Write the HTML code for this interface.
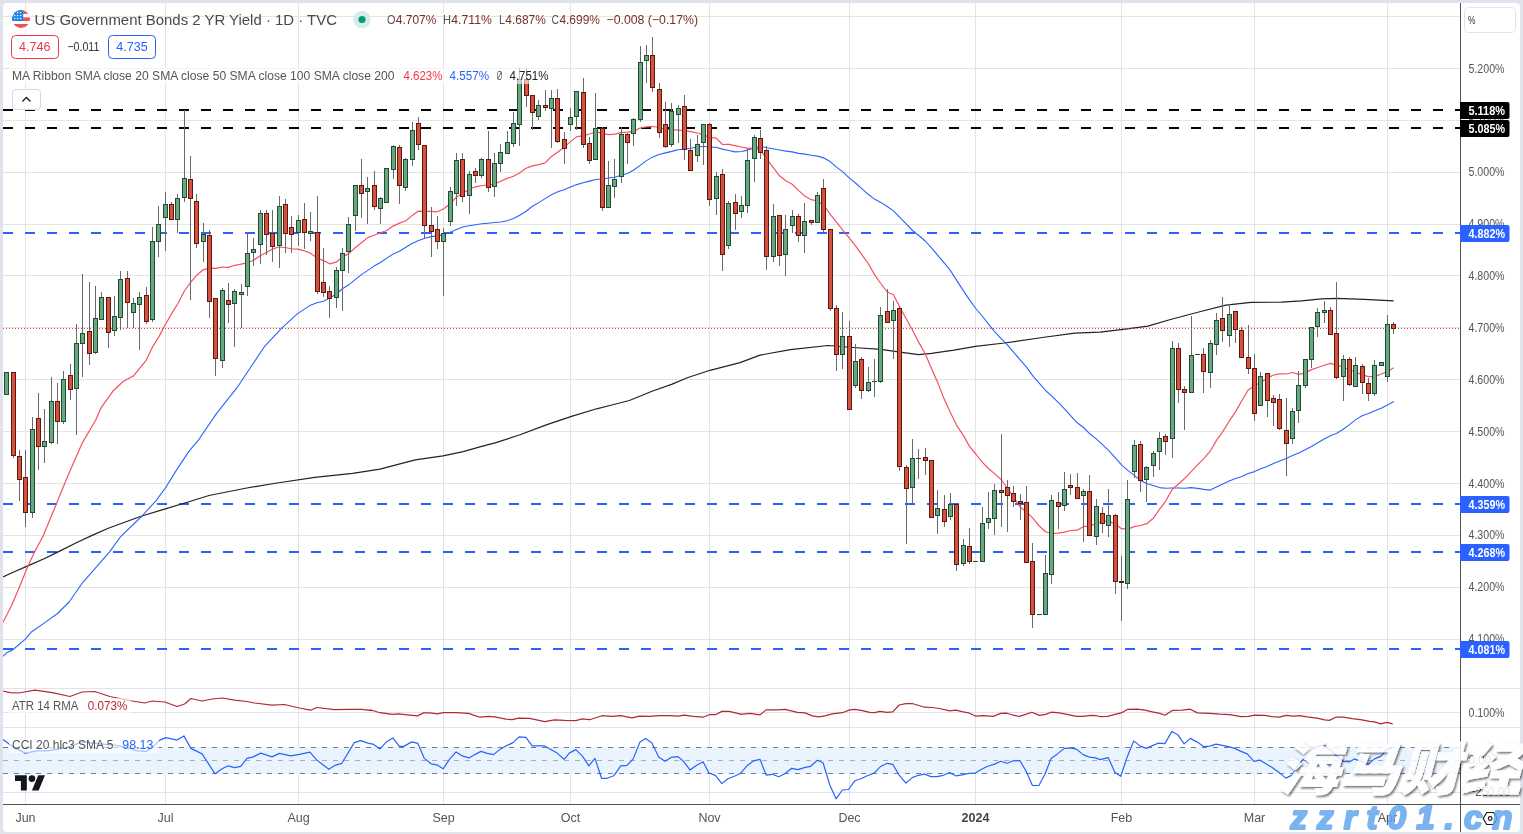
<!DOCTYPE html><html><head><meta charset="utf-8"><title>US Government Bonds 2 YR Yield</title>
<style>html,body{margin:0;padding:0;background:#e0e3eb;}body{width:1523px;height:834px;overflow:hidden;position:relative;font-family:"Liberation Sans","Noto Sans CJK SC",sans-serif;}svg{position:absolute;left:0;top:0;display:block}text{font-family:"Liberation Sans","Noto Sans CJK SC",sans-serif;}</style></head><body>
<svg width="1523" height="834" viewBox="0 0 1523 834">
<rect x="3" y="3" width="1517" height="829" rx="4" ry="4" fill="#ffffff"/>
<defs><clipPath id="cm"><rect x="3" y="3" width="1457" height="685"/></clipPath><clipPath id="ca"><rect x="3" y="689" width="1457" height="38"/></clipPath><clipPath id="cc"><rect x="3" y="728" width="1457" height="76"/></clipPath></defs>
<g shape-rendering="crispEdges">
<rect x="25" y="3" width="1" height="685" fill="#e4e4e4"/>
<rect x="25" y="689" width="1" height="115" fill="#e0e3eb"/>
<rect x="165" y="3" width="1" height="685" fill="#e4e4e4"/>
<rect x="165" y="689" width="1" height="115" fill="#e0e3eb"/>
<rect x="298" y="3" width="1" height="685" fill="#e4e4e4"/>
<rect x="298" y="689" width="1" height="115" fill="#e0e3eb"/>
<rect x="443" y="3" width="1" height="685" fill="#e4e4e4"/>
<rect x="443" y="689" width="1" height="115" fill="#e0e3eb"/>
<rect x="570" y="3" width="1" height="685" fill="#e4e4e4"/>
<rect x="570" y="689" width="1" height="115" fill="#e0e3eb"/>
<rect x="709" y="3" width="1" height="685" fill="#e4e4e4"/>
<rect x="709" y="689" width="1" height="115" fill="#e0e3eb"/>
<rect x="849" y="3" width="1" height="685" fill="#e4e4e4"/>
<rect x="849" y="689" width="1" height="115" fill="#e0e3eb"/>
<rect x="975" y="3" width="1" height="685" fill="#e4e4e4"/>
<rect x="975" y="689" width="1" height="115" fill="#e0e3eb"/>
<rect x="1121" y="3" width="1" height="685" fill="#e4e4e4"/>
<rect x="1121" y="689" width="1" height="115" fill="#e0e3eb"/>
<rect x="1254" y="3" width="1" height="685" fill="#e4e4e4"/>
<rect x="1254" y="689" width="1" height="115" fill="#e0e3eb"/>
<rect x="1387" y="3" width="1" height="685" fill="#e4e4e4"/>
<rect x="1387" y="689" width="1" height="115" fill="#e0e3eb"/>
<rect x="3" y="16" width="1457" height="1" fill="#e4e4e4"/>
<rect x="3" y="68" width="1457" height="1" fill="#e4e4e4"/>
<rect x="3" y="120" width="1457" height="1" fill="#e4e4e4"/>
<rect x="3" y="172" width="1457" height="1" fill="#e4e4e4"/>
<rect x="3" y="224" width="1457" height="1" fill="#e4e4e4"/>
<rect x="3" y="275" width="1457" height="1" fill="#e4e4e4"/>
<rect x="3" y="327" width="1457" height="1" fill="#e4e4e4"/>
<rect x="3" y="379" width="1457" height="1" fill="#e4e4e4"/>
<rect x="3" y="431" width="1457" height="1" fill="#e4e4e4"/>
<rect x="3" y="483" width="1457" height="1" fill="#e4e4e4"/>
<rect x="3" y="535" width="1457" height="1" fill="#e4e4e4"/>
<rect x="3" y="587" width="1457" height="1" fill="#e4e4e4"/>
<rect x="3" y="639" width="1457" height="1" fill="#e4e4e4"/>
<rect x="3" y="712" width="1457" height="1" fill="#e0e3eb"/>
<rect x="3" y="792" width="1457" height="1" fill="#e0e3eb"/>
<rect x="3" y="688" width="1517" height="1" fill="#e0e3eb"/>
<rect x="3" y="727" width="1517" height="1" fill="#e0e3eb"/>
</g>
<rect x="3" y="747" width="1457" height="27" fill="#e9f4fe" shape-rendering="crispEdges"/>
<line x1="3" x2="1460" y1="747.5" y2="747.5" stroke="#787b86" stroke-width="1" stroke-dasharray="5 6" shape-rendering="crispEdges"/>
<line x1="3" x2="1460" y1="760.5" y2="760.5" stroke="#a9acb4" stroke-width="1" stroke-dasharray="5 6" shape-rendering="crispEdges"/>
<line x1="3" x2="1460" y1="773.5" y2="773.5" stroke="#787b86" stroke-width="1" stroke-dasharray="5 6" shape-rendering="crispEdges"/>
<line x1="3" x2="1460" y1="110" y2="110" stroke="#000" stroke-width="2" stroke-dasharray="10 12" shape-rendering="crispEdges"/>
<line x1="3" x2="1460" y1="128" y2="128" stroke="#000" stroke-width="2" stroke-dasharray="10 12" shape-rendering="crispEdges"/>
<line x1="3" x2="1460" y1="233" y2="233" stroke="#2962ff" stroke-width="2" stroke-dasharray="10 12" shape-rendering="crispEdges"/>
<line x1="3" x2="1460" y1="504" y2="504" stroke="#2962ff" stroke-width="2" stroke-dasharray="10 12" shape-rendering="crispEdges"/>
<line x1="3" x2="1460" y1="552" y2="552" stroke="#2962ff" stroke-width="2" stroke-dasharray="10 12" shape-rendering="crispEdges"/>
<line x1="3" x2="1460" y1="649" y2="649" stroke="#2962ff" stroke-width="2" stroke-dasharray="10 12" shape-rendering="crispEdges"/>
<g clip-path="url(#cm)" fill="none" stroke-linejoin="round">
<path d="M2.9 577.0 L15.4 571.3 L27.8 565.9 L44.1 558.8 L57.6 552.1 L76.8 542.5 L92.1 535.4 L108.3 528.3 L141.0 516.2 L163.7 509.4 L188.9 501.8 L209.0 495.5 L246.8 488.0 L277.0 483.0 L314.8 477.4 L352.6 473.4 L380.0 469.1 L395.2 465.2 L415.3 459.9 L443.0 455.9 L463.2 451.6 L480.8 446.6 L495.9 442.6 L518.6 435.3 L546.3 424.9 L571.5 416.4 L596.6 408.8 L611.8 405.0 L629.4 400.5 L652.0 391.2 L672.2 384.1 L687.3 377.8 L710.0 370.3 L740.0 362.6 L760.1 355.1 L790.4 349.6 L828.1 345.5 L853.3 347.5 L881.0 349.3 L903.7 352.6 L918.8 354.6 L931.4 353.3 L954.0 350.1 L975.5 346.3 L1004.4 343.0 L1042.2 337.5 L1074.9 333.2 L1100.0 332.1 L1125.2 329.1 L1147.8 326.1 L1170.5 319.5 L1200.7 311.5 L1225.9 305.2 L1251.1 302.4 L1281.3 302.2 L1301.5 300.9 L1321.6 298.9 L1336.7 298.4 L1364.4 299.4 L1393.6 300.9" stroke="#222" stroke-width="1.2"/>
<path d="M2.9 656.3 L6.7 652.8 L12.5 650.0 L25.0 639.4 L31.7 631.7 L44.1 623.1 L57.6 613.5 L69.1 602.0 L82.5 582.8 L96.0 567.4 L109.4 552.1 L120.9 536.3 L141.0 517.0 L156.1 500.6 L166.2 486.7 L176.3 470.4 L188.9 451.4 L199.0 439.3 L216.6 413.4 L236.7 388.2 L251.8 365.5 L264.4 346.7 L282.0 327.8 L297.2 313.9 L309.7 305.6 L317.1 302.8 L323.5 301.2 L329.8 298.1 L336.1 294.0 L342.5 288.8 L348.8 284.8 L355.1 279.6 L361.5 274.6 L367.8 270.4 L374.1 266.1 L380.5 262.5 L386.8 258.1 L393.1 254.1 L399.5 251.2 L405.8 247.3 L412.1 243.5 L418.5 240.5 L424.8 238.3 L431.1 236.6 L437.5 235.9 L443.8 234.5 L450.1 232.2 L456.5 229.5 L462.8 227.0 L469.1 225.7 L475.5 224.7 L481.8 223.8 L488.1 223.2 L494.5 222.5 L500.8 222.0 L507.1 220.8 L513.5 218.4 L519.8 215.3 L526.1 211.2 L532.5 206.3 L538.8 202.6 L545.1 198.6 L551.5 194.8 L557.8 191.8 L564.1 189.7 L570.5 187.0 L576.8 184.6 L583.1 182.8 L589.5 181.1 L595.8 179.5 L602.1 179.0 L608.5 178.0 L614.8 177.2 L621.1 175.3 L627.5 173.5 L633.8 170.0 L640.1 165.4 L646.5 160.6 L652.8 156.9 L659.1 154.5 L665.5 152.9 L671.8 151.4 L678.2 149.7 L684.5 149.0 L690.8 148.2 L697.2 147.2 L703.5 146.3 L709.8 147.3 L716.2 147.2 L722.5 149.1 L728.8 150.5 L735.2 151.9 L741.5 151.5 L747.8 150.1 L754.2 148.0 L760.5 146.4 L766.8 147.7 L773.2 148.8 L779.5 150.0 L785.8 151.1 L792.2 151.9 L798.5 153.4 L804.8 154.1 L811.2 155.3 L817.5 156.1 L823.8 157.9 L830.2 161.6 L836.5 167.1 L842.8 171.9 L849.2 177.9 L855.5 183.0 L861.8 188.6 L868.2 194.3 L874.5 199.1 L880.8 202.4 L887.2 206.5 L893.5 210.9 L899.8 217.4 L906.2 223.9 L912.5 230.5 L918.8 235.5 L925.2 241.0 L931.5 247.8 L937.8 255.3 L944.2 262.9 L950.5 270.6 L956.8 280.6 L963.2 290.4 L969.5 299.9 L975.8 308.5 L982.2 316.0 L988.5 324.1 L994.8 331.8 L1001.2 338.7 L1007.5 345.1 L1013.8 352.3 L1020.2 359.9 L1026.5 367.1 L1032.8 375.9 L1039.2 383.1 L1045.5 390.5 L1051.8 396.2 L1058.2 402.3 L1064.5 408.8 L1070.8 415.8 L1077.2 422.8 L1083.5 427.5 L1089.8 433.8 L1096.2 438.9 L1102.5 444.7 L1108.8 450.7 L1115.2 457.6 L1121.5 464.9 L1127.8 470.4 L1134.2 475.4 L1140.5 480.4 L1146.8 483.6 L1153.2 485.6 L1159.5 487.6 L1165.8 488.2 L1172.2 488.0 L1178.5 488.0 L1184.8 488.2 L1191.2 487.6 L1197.5 488.4 L1203.8 489.4 L1210.2 490.1 L1216.5 487.1 L1222.8 484.0 L1229.2 481.1 L1235.5 478.5 L1241.8 476.4 L1248.2 473.5 L1254.5 471.6 L1260.8 468.7 L1267.2 466.6 L1273.5 463.4 L1279.8 461.0 L1286.2 458.6 L1292.5 455.6 L1298.8 452.9 L1305.2 449.7 L1311.5 446.4 L1317.8 442.8 L1324.2 439.1 L1330.5 435.8 L1336.8 433.3 L1343.2 429.2 L1349.5 424.6 L1355.8 419.6 L1362.2 415.8 L1368.5 413.6 L1374.8 410.8 L1381.2 408.3 L1387.5 405.0 L1393.8 401.6" stroke="#2962ff" stroke-width="1.1"/>
<path d="M2.9 622.5 L11.5 605.8 L19.2 587.6 L27.8 566.5 L34.5 552.1 L43.2 535.8 L56.7 503.1 L68.0 475.4 L81.8 443.9 L95.7 420.0 L100.7 408.4 L113.3 390.7 L123.4 381.2 L127.1 379.2 L133.5 375.9 L139.8 368.1 L146.1 360.4 L152.5 347.0 L158.8 336.9 L165.1 325.0 L171.5 313.9 L177.8 303.7 L184.1 291.5 L190.5 282.5 L196.8 275.2 L203.1 269.8 L209.5 268.2 L215.8 268.4 L222.1 267.0 L228.5 267.4 L234.8 265.3 L241.1 264.1 L247.5 262.8 L253.8 260.2 L260.1 255.7 L266.5 252.5 L272.8 248.8 L279.1 247.0 L285.5 247.5 L291.8 249.0 L298.1 249.1 L304.5 250.8 L310.8 253.4 L317.1 258.1 L323.5 260.6 L329.8 263.8 L336.1 262.2 L342.5 256.9 L348.8 253.6 L355.1 247.7 L361.5 242.8 L367.8 237.6 L374.1 235.3 L380.5 232.8 L386.8 230.5 L393.1 226.1 L399.5 223.1 L405.8 220.7 L412.1 215.6 L418.5 211.1 L424.8 211.3 L431.1 211.3 L437.5 211.8 L443.8 208.8 L450.1 203.8 L456.5 196.9 L462.8 193.2 L469.1 189.3 L475.5 186.8 L481.8 185.5 L488.1 185.2 L494.5 183.9 L500.8 181.2 L507.1 178.4 L513.5 176.2 L519.8 172.8 L526.1 168.3 L532.5 165.9 L538.8 164.7 L545.1 162.9 L551.5 156.5 L557.8 152.0 L564.1 147.4 L570.5 141.6 L576.8 136.6 L583.1 135.8 L589.5 134.0 L595.8 131.7 L602.1 133.3 L608.5 134.6 L614.8 134.2 L621.1 132.7 L627.5 132.2 L633.8 131.1 L640.1 128.0 L646.5 126.8 L652.8 126.5 L659.1 127.5 L665.5 129.5 L671.8 129.7 L678.2 130.2 L684.5 130.6 L690.8 131.7 L697.2 133.0 L703.5 134.7 L709.8 137.4 L716.2 138.2 L722.5 144.5 L728.8 144.3 L735.2 145.7 L741.5 147.0 L747.8 148.3 L754.2 148.1 L760.5 149.7 L766.8 159.4 L773.2 167.4 L779.5 175.8 L785.8 180.7 L792.2 184.2 L798.5 190.4 L804.8 196.1 L811.2 199.7 L817.5 201.0 L823.8 205.2 L830.2 214.4 L836.5 222.2 L842.8 230.2 L849.2 237.9 L855.5 245.8 L861.8 254.7 L868.2 263.5 L874.5 274.6 L880.8 283.5 L887.2 292.0 L893.5 294.7 L899.8 307.2 L906.2 318.8 L912.5 330.3 L918.8 342.4 L925.2 353.7 L931.5 368.5 L937.8 382.8 L944.2 399.1 L950.5 412.8 L956.8 425.6 L963.2 435.1 L969.5 446.4 L975.8 454.0 L982.2 462.1 L988.5 468.5 L994.8 473.9 L1001.2 479.5 L1007.5 488.5 L1013.8 497.4 L1020.2 507.1 L1026.5 511.9 L1032.8 518.2 L1039.2 526.0 L1045.5 531.7 L1051.8 533.7 L1058.2 533.2 L1064.5 532.2 L1070.8 530.5 L1077.2 530.2 L1083.5 526.6 L1089.8 526.1 L1096.2 523.3 L1102.5 521.4 L1108.8 521.0 L1115.2 524.1 L1121.5 528.7 L1127.8 529.1 L1134.2 526.6 L1140.5 525.5 L1146.8 523.7 L1153.2 518.3 L1159.5 509.4 L1165.8 500.8 L1172.2 489.5 L1178.5 484.0 L1184.8 478.3 L1191.2 471.6 L1197.5 464.9 L1203.8 458.6 L1210.2 451.2 L1216.5 440.4 L1222.8 431.6 L1229.2 421.2 L1235.5 411.9 L1241.8 400.7 L1248.2 390.0 L1254.5 385.7 L1260.8 382.2 L1267.2 378.2 L1273.5 375.0 L1279.8 373.8 L1286.2 374.0 L1292.5 372.5 L1298.8 374.4 L1305.2 372.9 L1311.5 369.6 L1317.8 367.5 L1324.2 365.3 L1330.5 363.4 L1336.8 365.1 L1343.2 367.0 L1349.5 369.7 L1355.8 372.3 L1362.2 374.9 L1368.5 376.7 L1374.8 376.6 L1381.2 374.0 L1387.5 371.4 L1393.8 367.8" stroke="#f7525f" stroke-width="1.2"/>
</g>
<line x1="3" x2="1460" y1="328.5" y2="328.5" stroke="#cf4432" stroke-width="1" stroke-dasharray="1 2" shape-rendering="crispEdges"/>
<g clip-path="url(#cm)" shape-rendering="crispEdges">
<rect x="6" y="372" width="1" height="22" fill="#6a6a6a"/>
<rect x="4" y="372" width="5" height="23" fill="#1f4d30"/>
<rect x="5" y="373" width="3" height="21" fill="#6aa681"/>
<rect x="13" y="372" width="1" height="86" fill="#6a6a6a"/>
<rect x="11" y="372" width="5" height="84" fill="#5e1710"/>
<rect x="12" y="373" width="3" height="82" fill="#d4513c"/>
<rect x="19" y="450" width="1" height="51" fill="#6a6a6a"/>
<rect x="17" y="456" width="5" height="24" fill="#5e1710"/>
<rect x="18" y="457" width="3" height="22" fill="#d4513c"/>
<rect x="25" y="450" width="1" height="77" fill="#6a6a6a"/>
<rect x="23" y="477" width="5" height="36" fill="#5e1710"/>
<rect x="24" y="478" width="3" height="34" fill="#d4513c"/>
<rect x="32" y="417" width="1" height="101" fill="#6a6a6a"/>
<rect x="30" y="429" width="5" height="84" fill="#1f4d30"/>
<rect x="31" y="430" width="3" height="82" fill="#6aa681"/>
<rect x="38" y="393" width="1" height="77" fill="#6a6a6a"/>
<rect x="36" y="418" width="5" height="29" fill="#5e1710"/>
<rect x="37" y="419" width="3" height="27" fill="#d4513c"/>
<rect x="44" y="409" width="1" height="54" fill="#6a6a6a"/>
<rect x="42" y="441" width="5" height="6" fill="#1f4d30"/>
<rect x="43" y="442" width="3" height="4" fill="#6aa681"/>
<rect x="51" y="377" width="1" height="67" fill="#6a6a6a"/>
<rect x="49" y="401" width="5" height="42" fill="#1f4d30"/>
<rect x="50" y="402" width="3" height="40" fill="#6aa681"/>
<rect x="57" y="383" width="1" height="61" fill="#6a6a6a"/>
<rect x="55" y="401" width="5" height="21" fill="#5e1710"/>
<rect x="56" y="402" width="3" height="19" fill="#d4513c"/>
<rect x="63" y="371" width="1" height="53" fill="#6a6a6a"/>
<rect x="61" y="379" width="5" height="43" fill="#1f4d30"/>
<rect x="62" y="380" width="3" height="41" fill="#6aa681"/>
<rect x="70" y="364" width="1" height="36" fill="#6a6a6a"/>
<rect x="68" y="375" width="5" height="15" fill="#5e1710"/>
<rect x="69" y="376" width="3" height="13" fill="#d4513c"/>
<rect x="76" y="324" width="1" height="111" fill="#6a6a6a"/>
<rect x="74" y="343" width="5" height="46" fill="#1f4d30"/>
<rect x="75" y="344" width="3" height="44" fill="#6aa681"/>
<rect x="82" y="274" width="1" height="103" fill="#6a6a6a"/>
<rect x="80" y="333" width="5" height="11" fill="#1f4d30"/>
<rect x="81" y="334" width="3" height="9" fill="#6aa681"/>
<rect x="89" y="282" width="1" height="83" fill="#6a6a6a"/>
<rect x="87" y="331" width="5" height="23" fill="#5e1710"/>
<rect x="88" y="332" width="3" height="21" fill="#d4513c"/>
<rect x="95" y="286" width="1" height="68" fill="#6a6a6a"/>
<rect x="93" y="318" width="5" height="35" fill="#1f4d30"/>
<rect x="94" y="319" width="3" height="33" fill="#6aa681"/>
<rect x="101" y="292" width="1" height="28" fill="#6a6a6a"/>
<rect x="99" y="297" width="5" height="23" fill="#1f4d30"/>
<rect x="100" y="298" width="3" height="21" fill="#6aa681"/>
<rect x="108" y="297" width="1" height="51" fill="#6a6a6a"/>
<rect x="106" y="297" width="5" height="36" fill="#5e1710"/>
<rect x="107" y="298" width="3" height="34" fill="#d4513c"/>
<rect x="114" y="296" width="1" height="40" fill="#6a6a6a"/>
<rect x="112" y="316" width="5" height="15" fill="#1f4d30"/>
<rect x="113" y="317" width="3" height="13" fill="#6aa681"/>
<rect x="120" y="271" width="1" height="59" fill="#6a6a6a"/>
<rect x="118" y="279" width="5" height="39" fill="#1f4d30"/>
<rect x="119" y="280" width="3" height="37" fill="#6aa681"/>
<rect x="127" y="271" width="1" height="57" fill="#6a6a6a"/>
<rect x="125" y="278" width="5" height="25" fill="#5e1710"/>
<rect x="126" y="279" width="3" height="23" fill="#d4513c"/>
<rect x="133" y="298" width="1" height="30" fill="#6a6a6a"/>
<rect x="131" y="303" width="5" height="10" fill="#1f4d30"/>
<rect x="132" y="304" width="3" height="8" fill="#6aa681"/>
<rect x="139" y="292" width="1" height="58" fill="#6a6a6a"/>
<rect x="137" y="297" width="5" height="8" fill="#1f4d30"/>
<rect x="138" y="298" width="3" height="6" fill="#6aa681"/>
<rect x="146" y="287" width="1" height="37" fill="#6a6a6a"/>
<rect x="144" y="295" width="5" height="27" fill="#5e1710"/>
<rect x="145" y="296" width="3" height="25" fill="#d4513c"/>
<rect x="152" y="227" width="1" height="95" fill="#6a6a6a"/>
<rect x="150" y="241" width="5" height="79" fill="#1f4d30"/>
<rect x="151" y="242" width="3" height="77" fill="#6aa681"/>
<rect x="158" y="206" width="1" height="51" fill="#6a6a6a"/>
<rect x="156" y="224" width="5" height="18" fill="#1f4d30"/>
<rect x="157" y="225" width="3" height="16" fill="#6aa681"/>
<rect x="165" y="192" width="1" height="59" fill="#6a6a6a"/>
<rect x="163" y="204" width="5" height="14" fill="#1f4d30"/>
<rect x="164" y="205" width="3" height="12" fill="#6aa681"/>
<rect x="171" y="202" width="1" height="17" fill="#6a6a6a"/>
<rect x="169" y="204" width="5" height="16" fill="#5e1710"/>
<rect x="170" y="205" width="3" height="14" fill="#d4513c"/>
<rect x="177" y="194" width="1" height="39" fill="#6a6a6a"/>
<rect x="175" y="198" width="5" height="22" fill="#1f4d30"/>
<rect x="176" y="199" width="3" height="20" fill="#6aa681"/>
<rect x="184" y="110" width="1" height="92" fill="#6a6a6a"/>
<rect x="182" y="178" width="5" height="20" fill="#1f4d30"/>
<rect x="183" y="179" width="3" height="18" fill="#6aa681"/>
<rect x="190" y="156" width="1" height="144" fill="#6a6a6a"/>
<rect x="188" y="179" width="5" height="20" fill="#5e1710"/>
<rect x="189" y="180" width="3" height="18" fill="#d4513c"/>
<rect x="196" y="194" width="1" height="54" fill="#6a6a6a"/>
<rect x="194" y="201" width="5" height="43" fill="#5e1710"/>
<rect x="195" y="202" width="3" height="41" fill="#d4513c"/>
<rect x="203" y="223" width="1" height="39" fill="#6a6a6a"/>
<rect x="201" y="234" width="5" height="8" fill="#1f4d30"/>
<rect x="202" y="235" width="3" height="6" fill="#6aa681"/>
<rect x="209" y="230" width="1" height="88" fill="#6a6a6a"/>
<rect x="207" y="235" width="5" height="67" fill="#5e1710"/>
<rect x="208" y="236" width="3" height="65" fill="#d4513c"/>
<rect x="215" y="298" width="1" height="78" fill="#6a6a6a"/>
<rect x="213" y="298" width="5" height="61" fill="#5e1710"/>
<rect x="214" y="299" width="3" height="59" fill="#d4513c"/>
<rect x="222" y="288" width="1" height="80" fill="#6a6a6a"/>
<rect x="220" y="290" width="5" height="71" fill="#1f4d30"/>
<rect x="221" y="291" width="3" height="69" fill="#6aa681"/>
<rect x="228" y="283" width="1" height="40" fill="#6a6a6a"/>
<rect x="226" y="300" width="5" height="5" fill="#5e1710"/>
<rect x="227" y="301" width="3" height="3" fill="#d4513c"/>
<rect x="234" y="289" width="1" height="58" fill="#6a6a6a"/>
<rect x="232" y="291" width="5" height="13" fill="#1f4d30"/>
<rect x="233" y="292" width="3" height="11" fill="#6aa681"/>
<rect x="241" y="284" width="1" height="44" fill="#6a6a6a"/>
<rect x="239" y="292" width="5" height="3" fill="#1f4d30"/>
<rect x="240" y="293" width="3" height="1" fill="#6aa681"/>
<rect x="247" y="232" width="1" height="64" fill="#6a6a6a"/>
<rect x="245" y="253" width="5" height="34" fill="#1f4d30"/>
<rect x="246" y="254" width="3" height="32" fill="#6aa681"/>
<rect x="253" y="238" width="1" height="28" fill="#6a6a6a"/>
<rect x="251" y="249" width="5" height="4" fill="#1f4d30"/>
<rect x="252" y="250" width="3" height="2" fill="#6aa681"/>
<rect x="260" y="210" width="1" height="54" fill="#6a6a6a"/>
<rect x="258" y="213" width="5" height="32" fill="#1f4d30"/>
<rect x="259" y="214" width="3" height="30" fill="#6aa681"/>
<rect x="266" y="210" width="1" height="45" fill="#6a6a6a"/>
<rect x="264" y="213" width="5" height="22" fill="#5e1710"/>
<rect x="265" y="214" width="3" height="20" fill="#d4513c"/>
<rect x="272" y="210" width="1" height="52" fill="#6a6a6a"/>
<rect x="270" y="233" width="5" height="14" fill="#5e1710"/>
<rect x="271" y="234" width="3" height="12" fill="#d4513c"/>
<rect x="279" y="196" width="1" height="72" fill="#6a6a6a"/>
<rect x="277" y="206" width="5" height="40" fill="#1f4d30"/>
<rect x="278" y="207" width="3" height="38" fill="#6aa681"/>
<rect x="285" y="199" width="1" height="54" fill="#6a6a6a"/>
<rect x="283" y="204" width="5" height="30" fill="#5e1710"/>
<rect x="284" y="205" width="3" height="28" fill="#d4513c"/>
<rect x="291" y="216" width="1" height="37" fill="#6a6a6a"/>
<rect x="289" y="227" width="5" height="8" fill="#5e1710"/>
<rect x="290" y="228" width="3" height="6" fill="#d4513c"/>
<rect x="298" y="215" width="1" height="31" fill="#6a6a6a"/>
<rect x="296" y="220" width="5" height="13" fill="#1f4d30"/>
<rect x="297" y="221" width="3" height="11" fill="#6aa681"/>
<rect x="304" y="203" width="1" height="46" fill="#6a6a6a"/>
<rect x="302" y="219" width="5" height="14" fill="#5e1710"/>
<rect x="303" y="220" width="3" height="12" fill="#d4513c"/>
<rect x="310" y="212" width="1" height="29" fill="#6a6a6a"/>
<rect x="308" y="231" width="5" height="3" fill="#1f4d30"/>
<rect x="309" y="232" width="3" height="1" fill="#6aa681"/>
<rect x="317" y="196" width="1" height="98" fill="#6a6a6a"/>
<rect x="315" y="232" width="5" height="60" fill="#5e1710"/>
<rect x="316" y="233" width="3" height="58" fill="#d4513c"/>
<rect x="323" y="248" width="1" height="49" fill="#6a6a6a"/>
<rect x="321" y="282" width="5" height="11" fill="#5e1710"/>
<rect x="322" y="283" width="3" height="9" fill="#d4513c"/>
<rect x="329" y="286" width="1" height="32" fill="#6a6a6a"/>
<rect x="327" y="291" width="5" height="8" fill="#5e1710"/>
<rect x="328" y="292" width="3" height="6" fill="#d4513c"/>
<rect x="336" y="267" width="1" height="41" fill="#6a6a6a"/>
<rect x="334" y="270" width="5" height="28" fill="#1f4d30"/>
<rect x="335" y="271" width="3" height="26" fill="#6aa681"/>
<rect x="342" y="248" width="1" height="63" fill="#6a6a6a"/>
<rect x="340" y="253" width="5" height="18" fill="#1f4d30"/>
<rect x="341" y="254" width="3" height="16" fill="#6aa681"/>
<rect x="348" y="217" width="1" height="56" fill="#6a6a6a"/>
<rect x="346" y="224" width="5" height="28" fill="#1f4d30"/>
<rect x="347" y="225" width="3" height="26" fill="#6aa681"/>
<rect x="355" y="185" width="1" height="46" fill="#6a6a6a"/>
<rect x="353" y="185" width="5" height="31" fill="#1f4d30"/>
<rect x="354" y="186" width="3" height="29" fill="#6aa681"/>
<rect x="361" y="159" width="1" height="59" fill="#6a6a6a"/>
<rect x="359" y="185" width="5" height="9" fill="#5e1710"/>
<rect x="360" y="186" width="3" height="7" fill="#d4513c"/>
<rect x="367" y="177" width="1" height="47" fill="#6a6a6a"/>
<rect x="365" y="188" width="5" height="4" fill="#1f4d30"/>
<rect x="366" y="189" width="3" height="2" fill="#6aa681"/>
<rect x="374" y="171" width="1" height="39" fill="#6a6a6a"/>
<rect x="372" y="185" width="5" height="22" fill="#5e1710"/>
<rect x="373" y="186" width="3" height="20" fill="#d4513c"/>
<rect x="380" y="197" width="1" height="27" fill="#6a6a6a"/>
<rect x="378" y="198" width="5" height="11" fill="#1f4d30"/>
<rect x="379" y="199" width="3" height="9" fill="#6aa681"/>
<rect x="386" y="168" width="1" height="35" fill="#6a6a6a"/>
<rect x="384" y="168" width="5" height="35" fill="#1f4d30"/>
<rect x="385" y="169" width="3" height="33" fill="#6aa681"/>
<rect x="393" y="145" width="1" height="34" fill="#6a6a6a"/>
<rect x="391" y="146" width="5" height="24" fill="#1f4d30"/>
<rect x="392" y="147" width="3" height="22" fill="#6aa681"/>
<rect x="399" y="145" width="1" height="59" fill="#6a6a6a"/>
<rect x="397" y="147" width="5" height="39" fill="#5e1710"/>
<rect x="398" y="148" width="3" height="37" fill="#d4513c"/>
<rect x="405" y="158" width="1" height="33" fill="#6a6a6a"/>
<rect x="403" y="159" width="5" height="29" fill="#1f4d30"/>
<rect x="404" y="160" width="3" height="27" fill="#6aa681"/>
<rect x="412" y="122" width="1" height="44" fill="#6a6a6a"/>
<rect x="410" y="130" width="5" height="30" fill="#1f4d30"/>
<rect x="411" y="131" width="3" height="28" fill="#6aa681"/>
<rect x="418" y="117" width="1" height="33" fill="#6a6a6a"/>
<rect x="416" y="123" width="5" height="22" fill="#5e1710"/>
<rect x="417" y="124" width="3" height="20" fill="#d4513c"/>
<rect x="424" y="145" width="1" height="94" fill="#6a6a6a"/>
<rect x="422" y="145" width="5" height="81" fill="#5e1710"/>
<rect x="423" y="146" width="3" height="79" fill="#d4513c"/>
<rect x="431" y="207" width="1" height="50" fill="#6a6a6a"/>
<rect x="429" y="225" width="5" height="7" fill="#5e1710"/>
<rect x="430" y="226" width="3" height="5" fill="#d4513c"/>
<rect x="437" y="216" width="1" height="33" fill="#6a6a6a"/>
<rect x="435" y="229" width="5" height="13" fill="#5e1710"/>
<rect x="436" y="230" width="3" height="11" fill="#d4513c"/>
<rect x="443" y="228" width="1" height="68" fill="#6a6a6a"/>
<rect x="441" y="233" width="5" height="9" fill="#1f4d30"/>
<rect x="442" y="234" width="3" height="7" fill="#6aa681"/>
<rect x="450" y="187" width="1" height="39" fill="#6a6a6a"/>
<rect x="448" y="191" width="5" height="31" fill="#1f4d30"/>
<rect x="449" y="192" width="3" height="29" fill="#6aa681"/>
<rect x="456" y="153" width="1" height="53" fill="#6a6a6a"/>
<rect x="454" y="160" width="5" height="34" fill="#1f4d30"/>
<rect x="455" y="161" width="3" height="32" fill="#6aa681"/>
<rect x="462" y="153" width="1" height="49" fill="#6a6a6a"/>
<rect x="460" y="159" width="5" height="38" fill="#5e1710"/>
<rect x="461" y="160" width="3" height="36" fill="#d4513c"/>
<rect x="469" y="171" width="1" height="43" fill="#6a6a6a"/>
<rect x="467" y="174" width="5" height="22" fill="#1f4d30"/>
<rect x="468" y="175" width="3" height="20" fill="#6aa681"/>
<rect x="475" y="168" width="1" height="15" fill="#6a6a6a"/>
<rect x="473" y="171" width="5" height="5" fill="#5e1710"/>
<rect x="474" y="172" width="3" height="3" fill="#d4513c"/>
<rect x="481" y="158" width="1" height="20" fill="#6a6a6a"/>
<rect x="479" y="159" width="5" height="17" fill="#1f4d30"/>
<rect x="480" y="160" width="3" height="15" fill="#6aa681"/>
<rect x="488" y="131" width="1" height="61" fill="#6a6a6a"/>
<rect x="486" y="159" width="5" height="29" fill="#5e1710"/>
<rect x="487" y="160" width="3" height="27" fill="#d4513c"/>
<rect x="494" y="153" width="1" height="44" fill="#6a6a6a"/>
<rect x="492" y="163" width="5" height="24" fill="#1f4d30"/>
<rect x="493" y="164" width="3" height="22" fill="#6aa681"/>
<rect x="500" y="144" width="1" height="28" fill="#6a6a6a"/>
<rect x="498" y="152" width="5" height="12" fill="#1f4d30"/>
<rect x="499" y="153" width="3" height="10" fill="#6aa681"/>
<rect x="507" y="131" width="1" height="23" fill="#6a6a6a"/>
<rect x="505" y="142" width="5" height="12" fill="#1f4d30"/>
<rect x="506" y="143" width="3" height="10" fill="#6aa681"/>
<rect x="513" y="112" width="1" height="35" fill="#6a6a6a"/>
<rect x="511" y="123" width="5" height="21" fill="#1f4d30"/>
<rect x="512" y="124" width="3" height="19" fill="#6aa681"/>
<rect x="519" y="68" width="1" height="78" fill="#6a6a6a"/>
<rect x="517" y="79" width="5" height="46" fill="#1f4d30"/>
<rect x="518" y="80" width="3" height="44" fill="#6aa681"/>
<rect x="526" y="68" width="1" height="39" fill="#6a6a6a"/>
<rect x="524" y="79" width="5" height="17" fill="#5e1710"/>
<rect x="525" y="80" width="3" height="15" fill="#d4513c"/>
<rect x="532" y="95" width="1" height="35" fill="#6a6a6a"/>
<rect x="530" y="95" width="5" height="18" fill="#5e1710"/>
<rect x="531" y="96" width="3" height="16" fill="#d4513c"/>
<rect x="538" y="100" width="1" height="20" fill="#6a6a6a"/>
<rect x="536" y="105" width="5" height="12" fill="#1f4d30"/>
<rect x="537" y="106" width="3" height="10" fill="#6aa681"/>
<rect x="545" y="90" width="1" height="21" fill="#6a6a6a"/>
<rect x="543" y="105" width="5" height="3" fill="#5e1710"/>
<rect x="544" y="106" width="3" height="1" fill="#d4513c"/>
<rect x="551" y="90" width="1" height="58" fill="#6a6a6a"/>
<rect x="549" y="98" width="5" height="11" fill="#1f4d30"/>
<rect x="550" y="99" width="3" height="9" fill="#6aa681"/>
<rect x="557" y="89" width="1" height="54" fill="#6a6a6a"/>
<rect x="555" y="98" width="5" height="44" fill="#5e1710"/>
<rect x="556" y="99" width="3" height="42" fill="#d4513c"/>
<rect x="564" y="132" width="1" height="32" fill="#6a6a6a"/>
<rect x="562" y="139" width="5" height="10" fill="#5e1710"/>
<rect x="563" y="140" width="3" height="8" fill="#d4513c"/>
<rect x="570" y="108" width="1" height="23" fill="#6a6a6a"/>
<rect x="568" y="117" width="5" height="8" fill="#1f4d30"/>
<rect x="569" y="118" width="3" height="6" fill="#6aa681"/>
<rect x="576" y="91" width="1" height="39" fill="#6a6a6a"/>
<rect x="574" y="91" width="5" height="26" fill="#1f4d30"/>
<rect x="575" y="92" width="3" height="24" fill="#6aa681"/>
<rect x="583" y="78" width="1" height="70" fill="#6a6a6a"/>
<rect x="581" y="92" width="5" height="53" fill="#5e1710"/>
<rect x="582" y="93" width="3" height="51" fill="#d4513c"/>
<rect x="589" y="137" width="1" height="27" fill="#6a6a6a"/>
<rect x="587" y="143" width="5" height="18" fill="#5e1710"/>
<rect x="588" y="144" width="3" height="16" fill="#d4513c"/>
<rect x="595" y="93" width="1" height="67" fill="#6a6a6a"/>
<rect x="593" y="128" width="5" height="32" fill="#1f4d30"/>
<rect x="594" y="129" width="3" height="30" fill="#6aa681"/>
<rect x="602" y="127" width="1" height="84" fill="#6a6a6a"/>
<rect x="600" y="128" width="5" height="80" fill="#5e1710"/>
<rect x="601" y="129" width="3" height="78" fill="#d4513c"/>
<rect x="608" y="161" width="1" height="47" fill="#6a6a6a"/>
<rect x="606" y="185" width="5" height="23" fill="#1f4d30"/>
<rect x="607" y="186" width="3" height="21" fill="#6aa681"/>
<rect x="614" y="159" width="1" height="39" fill="#6a6a6a"/>
<rect x="612" y="179" width="5" height="8" fill="#1f4d30"/>
<rect x="613" y="180" width="3" height="6" fill="#6aa681"/>
<rect x="621" y="127" width="1" height="56" fill="#6a6a6a"/>
<rect x="619" y="134" width="5" height="43" fill="#1f4d30"/>
<rect x="620" y="135" width="3" height="41" fill="#6aa681"/>
<rect x="627" y="133" width="1" height="31" fill="#6a6a6a"/>
<rect x="625" y="134" width="5" height="9" fill="#5e1710"/>
<rect x="626" y="135" width="3" height="7" fill="#d4513c"/>
<rect x="633" y="118" width="1" height="28" fill="#6a6a6a"/>
<rect x="631" y="119" width="5" height="15" fill="#1f4d30"/>
<rect x="632" y="120" width="3" height="13" fill="#6aa681"/>
<rect x="640" y="46" width="1" height="76" fill="#6a6a6a"/>
<rect x="638" y="62" width="5" height="58" fill="#1f4d30"/>
<rect x="639" y="63" width="3" height="56" fill="#6aa681"/>
<rect x="646" y="45" width="1" height="38" fill="#6a6a6a"/>
<rect x="644" y="55" width="5" height="6" fill="#1f4d30"/>
<rect x="645" y="56" width="3" height="4" fill="#6aa681"/>
<rect x="652" y="37" width="1" height="55" fill="#6a6a6a"/>
<rect x="650" y="55" width="5" height="33" fill="#5e1710"/>
<rect x="651" y="56" width="3" height="31" fill="#d4513c"/>
<rect x="659" y="83" width="1" height="55" fill="#6a6a6a"/>
<rect x="657" y="89" width="5" height="44" fill="#5e1710"/>
<rect x="658" y="90" width="3" height="42" fill="#d4513c"/>
<rect x="665" y="102" width="1" height="46" fill="#6a6a6a"/>
<rect x="663" y="124" width="5" height="23" fill="#5e1710"/>
<rect x="664" y="125" width="3" height="21" fill="#d4513c"/>
<rect x="671" y="103" width="1" height="44" fill="#6a6a6a"/>
<rect x="669" y="111" width="5" height="34" fill="#1f4d30"/>
<rect x="670" y="112" width="3" height="32" fill="#6aa681"/>
<rect x="678" y="105" width="1" height="38" fill="#6a6a6a"/>
<rect x="676" y="108" width="5" height="7" fill="#1f4d30"/>
<rect x="677" y="109" width="3" height="5" fill="#6aa681"/>
<rect x="684" y="95" width="1" height="65" fill="#6a6a6a"/>
<rect x="682" y="106" width="5" height="44" fill="#5e1710"/>
<rect x="683" y="107" width="3" height="42" fill="#d4513c"/>
<rect x="690" y="139" width="1" height="32" fill="#6a6a6a"/>
<rect x="688" y="150" width="5" height="21" fill="#5e1710"/>
<rect x="689" y="151" width="3" height="19" fill="#d4513c"/>
<rect x="697" y="135" width="1" height="27" fill="#6a6a6a"/>
<rect x="695" y="144" width="5" height="12" fill="#1f4d30"/>
<rect x="696" y="145" width="3" height="10" fill="#6aa681"/>
<rect x="703" y="124" width="1" height="41" fill="#6a6a6a"/>
<rect x="701" y="124" width="5" height="19" fill="#1f4d30"/>
<rect x="702" y="125" width="3" height="17" fill="#6aa681"/>
<rect x="709" y="123" width="1" height="83" fill="#6a6a6a"/>
<rect x="707" y="124" width="5" height="76" fill="#5e1710"/>
<rect x="708" y="125" width="3" height="74" fill="#d4513c"/>
<rect x="716" y="172" width="1" height="43" fill="#6a6a6a"/>
<rect x="714" y="176" width="5" height="23" fill="#1f4d30"/>
<rect x="715" y="177" width="3" height="21" fill="#6aa681"/>
<rect x="722" y="169" width="1" height="102" fill="#6a6a6a"/>
<rect x="720" y="174" width="5" height="81" fill="#5e1710"/>
<rect x="721" y="175" width="3" height="79" fill="#d4513c"/>
<rect x="728" y="201" width="1" height="48" fill="#6a6a6a"/>
<rect x="726" y="203" width="5" height="43" fill="#1f4d30"/>
<rect x="727" y="204" width="3" height="41" fill="#6aa681"/>
<rect x="735" y="194" width="1" height="36" fill="#6a6a6a"/>
<rect x="733" y="202" width="5" height="12" fill="#5e1710"/>
<rect x="734" y="203" width="3" height="10" fill="#d4513c"/>
<rect x="741" y="196" width="1" height="22" fill="#6a6a6a"/>
<rect x="739" y="205" width="5" height="7" fill="#1f4d30"/>
<rect x="740" y="206" width="3" height="5" fill="#6aa681"/>
<rect x="747" y="149" width="1" height="64" fill="#6a6a6a"/>
<rect x="745" y="160" width="5" height="46" fill="#1f4d30"/>
<rect x="746" y="161" width="3" height="44" fill="#6aa681"/>
<rect x="754" y="135" width="1" height="47" fill="#6a6a6a"/>
<rect x="752" y="137" width="5" height="22" fill="#1f4d30"/>
<rect x="753" y="138" width="3" height="20" fill="#6aa681"/>
<rect x="760" y="130" width="1" height="29" fill="#6a6a6a"/>
<rect x="758" y="138" width="5" height="15" fill="#5e1710"/>
<rect x="759" y="139" width="3" height="13" fill="#d4513c"/>
<rect x="766" y="146" width="1" height="124" fill="#6a6a6a"/>
<rect x="764" y="150" width="5" height="107" fill="#5e1710"/>
<rect x="765" y="151" width="3" height="105" fill="#d4513c"/>
<rect x="773" y="204" width="1" height="58" fill="#6a6a6a"/>
<rect x="771" y="216" width="5" height="41" fill="#1f4d30"/>
<rect x="772" y="217" width="3" height="39" fill="#6aa681"/>
<rect x="779" y="215" width="1" height="51" fill="#6a6a6a"/>
<rect x="777" y="215" width="5" height="41" fill="#5e1710"/>
<rect x="778" y="216" width="3" height="39" fill="#d4513c"/>
<rect x="785" y="215" width="1" height="61" fill="#6a6a6a"/>
<rect x="783" y="229" width="5" height="26" fill="#1f4d30"/>
<rect x="784" y="230" width="3" height="24" fill="#6aa681"/>
<rect x="792" y="210" width="1" height="23" fill="#6a6a6a"/>
<rect x="790" y="216" width="5" height="10" fill="#1f4d30"/>
<rect x="791" y="217" width="3" height="8" fill="#6aa681"/>
<rect x="798" y="214" width="1" height="28" fill="#6a6a6a"/>
<rect x="796" y="216" width="5" height="20" fill="#5e1710"/>
<rect x="797" y="217" width="3" height="18" fill="#d4513c"/>
<rect x="804" y="203" width="1" height="50" fill="#6a6a6a"/>
<rect x="802" y="221" width="5" height="15" fill="#1f4d30"/>
<rect x="803" y="222" width="3" height="13" fill="#6aa681"/>
<rect x="811" y="220" width="1" height="5" fill="#6a6a6a"/>
<rect x="809" y="220" width="5" height="3" fill="#5e1710"/>
<rect x="810" y="221" width="3" height="1" fill="#d4513c"/>
<rect x="817" y="192" width="1" height="30" fill="#6a6a6a"/>
<rect x="815" y="195" width="5" height="28" fill="#1f4d30"/>
<rect x="816" y="196" width="3" height="26" fill="#6aa681"/>
<rect x="823" y="179" width="1" height="53" fill="#6a6a6a"/>
<rect x="821" y="188" width="5" height="42" fill="#5e1710"/>
<rect x="822" y="189" width="3" height="40" fill="#d4513c"/>
<rect x="830" y="229" width="1" height="82" fill="#6a6a6a"/>
<rect x="828" y="229" width="5" height="80" fill="#5e1710"/>
<rect x="829" y="230" width="3" height="78" fill="#d4513c"/>
<rect x="836" y="305" width="1" height="66" fill="#6a6a6a"/>
<rect x="834" y="308" width="5" height="47" fill="#5e1710"/>
<rect x="835" y="309" width="3" height="45" fill="#d4513c"/>
<rect x="842" y="312" width="1" height="57" fill="#6a6a6a"/>
<rect x="840" y="336" width="5" height="19" fill="#1f4d30"/>
<rect x="841" y="337" width="3" height="17" fill="#6aa681"/>
<rect x="849" y="321" width="1" height="88" fill="#6a6a6a"/>
<rect x="847" y="336" width="5" height="74" fill="#5e1710"/>
<rect x="848" y="337" width="3" height="72" fill="#d4513c"/>
<rect x="855" y="344" width="1" height="44" fill="#6a6a6a"/>
<rect x="853" y="361" width="5" height="25" fill="#1f4d30"/>
<rect x="854" y="362" width="3" height="23" fill="#6aa681"/>
<rect x="861" y="357" width="1" height="42" fill="#6a6a6a"/>
<rect x="859" y="359" width="5" height="32" fill="#5e1710"/>
<rect x="860" y="360" width="3" height="30" fill="#d4513c"/>
<rect x="868" y="367" width="1" height="25" fill="#6a6a6a"/>
<rect x="866" y="382" width="5" height="9" fill="#1f4d30"/>
<rect x="867" y="383" width="3" height="7" fill="#6aa681"/>
<rect x="874" y="359" width="1" height="38" fill="#6a6a6a"/>
<rect x="872" y="381" width="5" height="1" fill="#1f4d30"/>
<rect x="880" y="307" width="1" height="76" fill="#6a6a6a"/>
<rect x="878" y="315" width="5" height="67" fill="#1f4d30"/>
<rect x="879" y="316" width="3" height="65" fill="#6aa681"/>
<rect x="887" y="289" width="1" height="33" fill="#6a6a6a"/>
<rect x="885" y="311" width="5" height="12" fill="#5e1710"/>
<rect x="886" y="312" width="3" height="10" fill="#d4513c"/>
<rect x="893" y="301" width="1" height="58" fill="#6a6a6a"/>
<rect x="891" y="310" width="5" height="11" fill="#1f4d30"/>
<rect x="892" y="311" width="3" height="9" fill="#6aa681"/>
<rect x="899" y="306" width="1" height="165" fill="#6a6a6a"/>
<rect x="897" y="308" width="5" height="159" fill="#5e1710"/>
<rect x="898" y="309" width="3" height="157" fill="#d4513c"/>
<rect x="906" y="465" width="1" height="79" fill="#6a6a6a"/>
<rect x="904" y="467" width="5" height="22" fill="#5e1710"/>
<rect x="905" y="468" width="3" height="20" fill="#d4513c"/>
<rect x="912" y="439" width="1" height="65" fill="#6a6a6a"/>
<rect x="910" y="458" width="5" height="30" fill="#1f4d30"/>
<rect x="911" y="459" width="3" height="28" fill="#6aa681"/>
<rect x="918" y="449" width="1" height="30" fill="#6a6a6a"/>
<rect x="916" y="458" width="5" height="1" fill="#1f4d30"/>
<rect x="925" y="448" width="1" height="27" fill="#6a6a6a"/>
<rect x="923" y="457" width="5" height="4" fill="#5e1710"/>
<rect x="924" y="458" width="3" height="2" fill="#d4513c"/>
<rect x="931" y="460" width="1" height="58" fill="#6a6a6a"/>
<rect x="929" y="460" width="5" height="58" fill="#5e1710"/>
<rect x="930" y="461" width="3" height="56" fill="#d4513c"/>
<rect x="937" y="490" width="1" height="44" fill="#6a6a6a"/>
<rect x="935" y="508" width="5" height="8" fill="#1f4d30"/>
<rect x="936" y="509" width="3" height="6" fill="#6aa681"/>
<rect x="944" y="495" width="1" height="32" fill="#6a6a6a"/>
<rect x="942" y="509" width="5" height="13" fill="#5e1710"/>
<rect x="943" y="510" width="3" height="11" fill="#d4513c"/>
<rect x="950" y="493" width="1" height="27" fill="#6a6a6a"/>
<rect x="948" y="504" width="5" height="13" fill="#1f4d30"/>
<rect x="949" y="505" width="3" height="11" fill="#6aa681"/>
<rect x="956" y="504" width="1" height="67" fill="#6a6a6a"/>
<rect x="954" y="504" width="5" height="61" fill="#5e1710"/>
<rect x="955" y="505" width="3" height="59" fill="#d4513c"/>
<rect x="963" y="539" width="1" height="27" fill="#6a6a6a"/>
<rect x="961" y="545" width="5" height="19" fill="#1f4d30"/>
<rect x="962" y="546" width="3" height="17" fill="#6aa681"/>
<rect x="969" y="528" width="1" height="36" fill="#6a6a6a"/>
<rect x="967" y="546" width="5" height="16" fill="#5e1710"/>
<rect x="968" y="547" width="3" height="14" fill="#d4513c"/>
<rect x="973" y="561" width="5" height="1" fill="#1f4d30"/>
<rect x="982" y="507" width="1" height="55" fill="#6a6a6a"/>
<rect x="980" y="523" width="5" height="39" fill="#1f4d30"/>
<rect x="981" y="524" width="3" height="37" fill="#6aa681"/>
<rect x="988" y="492" width="1" height="37" fill="#6a6a6a"/>
<rect x="986" y="518" width="5" height="5" fill="#1f4d30"/>
<rect x="987" y="519" width="3" height="3" fill="#6aa681"/>
<rect x="994" y="484" width="1" height="51" fill="#6a6a6a"/>
<rect x="992" y="490" width="5" height="29" fill="#1f4d30"/>
<rect x="993" y="491" width="3" height="27" fill="#6aa681"/>
<rect x="1001" y="434" width="1" height="93" fill="#6a6a6a"/>
<rect x="999" y="490" width="5" height="3" fill="#5e1710"/>
<rect x="1000" y="491" width="3" height="1" fill="#d4513c"/>
<rect x="1007" y="480" width="1" height="52" fill="#6a6a6a"/>
<rect x="1005" y="487" width="5" height="9" fill="#5e1710"/>
<rect x="1006" y="488" width="3" height="7" fill="#d4513c"/>
<rect x="1013" y="486" width="1" height="21" fill="#6a6a6a"/>
<rect x="1011" y="493" width="5" height="9" fill="#5e1710"/>
<rect x="1012" y="494" width="3" height="7" fill="#d4513c"/>
<rect x="1020" y="494" width="1" height="26" fill="#6a6a6a"/>
<rect x="1018" y="501" width="5" height="3" fill="#5e1710"/>
<rect x="1019" y="502" width="3" height="1" fill="#d4513c"/>
<rect x="1026" y="486" width="1" height="77" fill="#6a6a6a"/>
<rect x="1024" y="502" width="5" height="61" fill="#5e1710"/>
<rect x="1025" y="503" width="3" height="59" fill="#d4513c"/>
<rect x="1032" y="543" width="1" height="85" fill="#6a6a6a"/>
<rect x="1030" y="561" width="5" height="54" fill="#5e1710"/>
<rect x="1031" y="562" width="3" height="52" fill="#d4513c"/>
<rect x="1037" y="614" width="5" height="1" fill="#1f4d30"/>
<rect x="1045" y="555" width="1" height="59" fill="#6a6a6a"/>
<rect x="1043" y="573" width="5" height="42" fill="#1f4d30"/>
<rect x="1044" y="574" width="3" height="40" fill="#6aa681"/>
<rect x="1051" y="495" width="1" height="89" fill="#6a6a6a"/>
<rect x="1049" y="500" width="5" height="75" fill="#1f4d30"/>
<rect x="1050" y="501" width="3" height="73" fill="#6aa681"/>
<rect x="1058" y="492" width="1" height="37" fill="#6a6a6a"/>
<rect x="1056" y="502" width="5" height="5" fill="#5e1710"/>
<rect x="1057" y="503" width="3" height="3" fill="#d4513c"/>
<rect x="1064" y="472" width="1" height="39" fill="#6a6a6a"/>
<rect x="1062" y="489" width="5" height="17" fill="#1f4d30"/>
<rect x="1063" y="490" width="3" height="15" fill="#6aa681"/>
<rect x="1070" y="474" width="1" height="21" fill="#6a6a6a"/>
<rect x="1068" y="485" width="5" height="3" fill="#5e1710"/>
<rect x="1069" y="486" width="3" height="1" fill="#d4513c"/>
<rect x="1077" y="473" width="1" height="25" fill="#6a6a6a"/>
<rect x="1075" y="487" width="5" height="12" fill="#5e1710"/>
<rect x="1076" y="488" width="3" height="10" fill="#d4513c"/>
<rect x="1083" y="489" width="1" height="53" fill="#6a6a6a"/>
<rect x="1081" y="491" width="5" height="5" fill="#1f4d30"/>
<rect x="1082" y="492" width="3" height="3" fill="#6aa681"/>
<rect x="1089" y="475" width="1" height="60" fill="#6a6a6a"/>
<rect x="1087" y="491" width="5" height="45" fill="#5e1710"/>
<rect x="1088" y="492" width="3" height="43" fill="#d4513c"/>
<rect x="1096" y="499" width="1" height="46" fill="#6a6a6a"/>
<rect x="1094" y="506" width="5" height="31" fill="#1f4d30"/>
<rect x="1095" y="507" width="3" height="29" fill="#6aa681"/>
<rect x="1102" y="507" width="1" height="26" fill="#6a6a6a"/>
<rect x="1100" y="513" width="5" height="11" fill="#5e1710"/>
<rect x="1101" y="514" width="3" height="9" fill="#d4513c"/>
<rect x="1108" y="489" width="1" height="48" fill="#6a6a6a"/>
<rect x="1106" y="515" width="5" height="11" fill="#1f4d30"/>
<rect x="1107" y="516" width="3" height="9" fill="#6aa681"/>
<rect x="1115" y="514" width="1" height="80" fill="#6a6a6a"/>
<rect x="1113" y="515" width="5" height="67" fill="#5e1710"/>
<rect x="1114" y="516" width="3" height="65" fill="#d4513c"/>
<rect x="1121" y="556" width="1" height="65" fill="#6a6a6a"/>
<rect x="1119" y="581" width="5" height="2" fill="#5e1710"/>
<rect x="1127" y="480" width="1" height="109" fill="#6a6a6a"/>
<rect x="1125" y="499" width="5" height="85" fill="#1f4d30"/>
<rect x="1126" y="500" width="3" height="83" fill="#6aa681"/>
<rect x="1134" y="440" width="1" height="38" fill="#6a6a6a"/>
<rect x="1132" y="445" width="5" height="27" fill="#1f4d30"/>
<rect x="1133" y="446" width="3" height="25" fill="#6aa681"/>
<rect x="1140" y="441" width="1" height="51" fill="#6a6a6a"/>
<rect x="1138" y="444" width="5" height="37" fill="#5e1710"/>
<rect x="1139" y="445" width="3" height="35" fill="#d4513c"/>
<rect x="1146" y="466" width="1" height="36" fill="#6a6a6a"/>
<rect x="1144" y="467" width="5" height="13" fill="#1f4d30"/>
<rect x="1145" y="468" width="3" height="11" fill="#6aa681"/>
<rect x="1153" y="451" width="1" height="26" fill="#6a6a6a"/>
<rect x="1151" y="453" width="5" height="13" fill="#1f4d30"/>
<rect x="1152" y="454" width="3" height="11" fill="#6aa681"/>
<rect x="1159" y="432" width="1" height="38" fill="#6a6a6a"/>
<rect x="1157" y="438" width="5" height="14" fill="#1f4d30"/>
<rect x="1158" y="439" width="3" height="12" fill="#6aa681"/>
<rect x="1165" y="434" width="1" height="21" fill="#6a6a6a"/>
<rect x="1163" y="436" width="5" height="6" fill="#5e1710"/>
<rect x="1164" y="437" width="3" height="4" fill="#d4513c"/>
<rect x="1172" y="341" width="1" height="117" fill="#6a6a6a"/>
<rect x="1170" y="348" width="5" height="91" fill="#1f4d30"/>
<rect x="1171" y="349" width="3" height="89" fill="#6aa681"/>
<rect x="1178" y="343" width="1" height="60" fill="#6a6a6a"/>
<rect x="1176" y="348" width="5" height="42" fill="#5e1710"/>
<rect x="1177" y="349" width="3" height="40" fill="#d4513c"/>
<rect x="1184" y="386" width="1" height="44" fill="#6a6a6a"/>
<rect x="1182" y="389" width="5" height="4" fill="#5e1710"/>
<rect x="1183" y="390" width="3" height="2" fill="#d4513c"/>
<rect x="1191" y="316" width="1" height="77" fill="#6a6a6a"/>
<rect x="1189" y="355" width="5" height="38" fill="#1f4d30"/>
<rect x="1190" y="356" width="3" height="36" fill="#6aa681"/>
<rect x="1195" y="354" width="5" height="1" fill="#1f4d30"/>
<rect x="1203" y="348" width="1" height="45" fill="#6a6a6a"/>
<rect x="1201" y="354" width="5" height="18" fill="#5e1710"/>
<rect x="1202" y="355" width="3" height="16" fill="#d4513c"/>
<rect x="1210" y="340" width="1" height="48" fill="#6a6a6a"/>
<rect x="1208" y="343" width="5" height="30" fill="#1f4d30"/>
<rect x="1209" y="344" width="3" height="28" fill="#6aa681"/>
<rect x="1216" y="313" width="1" height="42" fill="#6a6a6a"/>
<rect x="1214" y="320" width="5" height="25" fill="#1f4d30"/>
<rect x="1215" y="321" width="3" height="23" fill="#6aa681"/>
<rect x="1222" y="297" width="1" height="45" fill="#6a6a6a"/>
<rect x="1220" y="318" width="5" height="13" fill="#5e1710"/>
<rect x="1221" y="319" width="3" height="11" fill="#d4513c"/>
<rect x="1229" y="304" width="1" height="43" fill="#6a6a6a"/>
<rect x="1227" y="314" width="5" height="22" fill="#1f4d30"/>
<rect x="1228" y="315" width="3" height="20" fill="#6aa681"/>
<rect x="1235" y="312" width="1" height="31" fill="#6a6a6a"/>
<rect x="1233" y="311" width="5" height="19" fill="#5e1710"/>
<rect x="1234" y="312" width="3" height="17" fill="#d4513c"/>
<rect x="1241" y="327" width="1" height="30" fill="#6a6a6a"/>
<rect x="1239" y="330" width="5" height="28" fill="#5e1710"/>
<rect x="1240" y="331" width="3" height="26" fill="#d4513c"/>
<rect x="1248" y="325" width="1" height="49" fill="#6a6a6a"/>
<rect x="1246" y="357" width="5" height="12" fill="#5e1710"/>
<rect x="1247" y="358" width="3" height="10" fill="#d4513c"/>
<rect x="1254" y="354" width="1" height="67" fill="#6a6a6a"/>
<rect x="1252" y="368" width="5" height="46" fill="#5e1710"/>
<rect x="1253" y="369" width="3" height="44" fill="#d4513c"/>
<rect x="1260" y="372" width="1" height="34" fill="#6a6a6a"/>
<rect x="1258" y="376" width="5" height="30" fill="#1f4d30"/>
<rect x="1259" y="377" width="3" height="28" fill="#6aa681"/>
<rect x="1267" y="373" width="1" height="44" fill="#6a6a6a"/>
<rect x="1265" y="373" width="5" height="28" fill="#5e1710"/>
<rect x="1266" y="374" width="3" height="26" fill="#d4513c"/>
<rect x="1273" y="395" width="1" height="31" fill="#6a6a6a"/>
<rect x="1271" y="398" width="5" height="5" fill="#5e1710"/>
<rect x="1272" y="399" width="3" height="3" fill="#d4513c"/>
<rect x="1279" y="394" width="1" height="36" fill="#6a6a6a"/>
<rect x="1277" y="399" width="5" height="30" fill="#5e1710"/>
<rect x="1278" y="400" width="3" height="28" fill="#d4513c"/>
<rect x="1286" y="398" width="1" height="78" fill="#6a6a6a"/>
<rect x="1284" y="430" width="5" height="14" fill="#5e1710"/>
<rect x="1285" y="431" width="3" height="12" fill="#d4513c"/>
<rect x="1292" y="408" width="1" height="36" fill="#6a6a6a"/>
<rect x="1290" y="411" width="5" height="28" fill="#1f4d30"/>
<rect x="1291" y="412" width="3" height="26" fill="#6aa681"/>
<rect x="1298" y="371" width="1" height="52" fill="#6a6a6a"/>
<rect x="1296" y="385" width="5" height="26" fill="#1f4d30"/>
<rect x="1297" y="386" width="3" height="24" fill="#6aa681"/>
<rect x="1305" y="359" width="1" height="29" fill="#6a6a6a"/>
<rect x="1303" y="359" width="5" height="27" fill="#1f4d30"/>
<rect x="1304" y="360" width="3" height="25" fill="#6aa681"/>
<rect x="1311" y="327" width="1" height="41" fill="#6a6a6a"/>
<rect x="1309" y="327" width="5" height="33" fill="#1f4d30"/>
<rect x="1310" y="328" width="3" height="31" fill="#6aa681"/>
<rect x="1317" y="308" width="1" height="29" fill="#6a6a6a"/>
<rect x="1315" y="312" width="5" height="15" fill="#1f4d30"/>
<rect x="1316" y="313" width="3" height="13" fill="#6aa681"/>
<rect x="1324" y="301" width="1" height="22" fill="#6a6a6a"/>
<rect x="1322" y="310" width="5" height="3" fill="#1f4d30"/>
<rect x="1323" y="311" width="3" height="1" fill="#6aa681"/>
<rect x="1330" y="307" width="1" height="27" fill="#6a6a6a"/>
<rect x="1328" y="310" width="5" height="25" fill="#5e1710"/>
<rect x="1329" y="311" width="3" height="23" fill="#d4513c"/>
<rect x="1336" y="282" width="1" height="97" fill="#6a6a6a"/>
<rect x="1334" y="333" width="5" height="45" fill="#5e1710"/>
<rect x="1335" y="334" width="3" height="43" fill="#d4513c"/>
<rect x="1343" y="355" width="1" height="46" fill="#6a6a6a"/>
<rect x="1341" y="359" width="5" height="18" fill="#1f4d30"/>
<rect x="1342" y="360" width="3" height="16" fill="#6aa681"/>
<rect x="1349" y="357" width="1" height="29" fill="#6a6a6a"/>
<rect x="1347" y="359" width="5" height="26" fill="#5e1710"/>
<rect x="1348" y="360" width="3" height="24" fill="#d4513c"/>
<rect x="1355" y="357" width="1" height="30" fill="#6a6a6a"/>
<rect x="1353" y="365" width="5" height="22" fill="#1f4d30"/>
<rect x="1354" y="366" width="3" height="20" fill="#6aa681"/>
<rect x="1362" y="364" width="1" height="30" fill="#6a6a6a"/>
<rect x="1360" y="366" width="5" height="17" fill="#5e1710"/>
<rect x="1361" y="367" width="3" height="15" fill="#d4513c"/>
<rect x="1368" y="378" width="1" height="23" fill="#6a6a6a"/>
<rect x="1366" y="383" width="5" height="11" fill="#5e1710"/>
<rect x="1367" y="384" width="3" height="9" fill="#d4513c"/>
<rect x="1374" y="360" width="1" height="36" fill="#6a6a6a"/>
<rect x="1372" y="365" width="5" height="29" fill="#1f4d30"/>
<rect x="1373" y="366" width="3" height="27" fill="#6aa681"/>
<rect x="1381" y="362" width="1" height="3" fill="#6a6a6a"/>
<rect x="1379" y="362" width="5" height="4" fill="#1f4d30"/>
<rect x="1380" y="363" width="3" height="2" fill="#6aa681"/>
<rect x="1387" y="315" width="1" height="67" fill="#6a6a6a"/>
<rect x="1385" y="324" width="5" height="53" fill="#1f4d30"/>
<rect x="1386" y="325" width="3" height="51" fill="#6aa681"/>
<rect x="1393" y="322" width="1" height="12" fill="#6a6a6a"/>
<rect x="1391" y="324" width="5" height="5" fill="#5e1710"/>
<rect x="1392" y="325" width="3" height="3" fill="#d4513c"/>
</g>
<path clip-path="url(#ca)" d="M3.0 691.0 L10.0 692.7 L18.7 693.0 L34.9 690.2 L52.4 692.7 L69.9 696.5 L82.3 692.0 L94.8 691.5 L109.8 696.5 L132.2 701.0 L144.7 703.0 L152.2 701.0 L164.7 702.0 L177.1 706.5 L184.6 704.0 L190.9 698.5 L202.1 701.0 L212.1 699.0 L222.1 698.0 L234.5 700.2 L247.0 701.5 L254.5 703.0 L272.0 705.2 L284.4 704.5 L299.4 708.0 L310.6 710.2 L316.9 707.5 L334.3 709.7 L349.3 709.4 L361.8 709.4 L371.8 710.7 L370.0 709.7 L380.0 712.7 L392.5 714.4 L398.7 713.9 L407.4 714.9 L417.4 715.9 L423.6 712.9 L429.9 712.9 L437.4 713.9 L443.6 712.7 L456.1 712.7 L468.6 713.4 L479.8 717.2 L488.5 716.4 L494.8 716.9 L506.0 719.2 L512.2 719.7 L518.5 718.2 L529.7 718.4 L544.7 721.7 L554.6 719.9 L564.6 720.4 L575.8 720.7 L582.1 718.9 L589.6 719.7 L602.0 715.7 L612.0 716.4 L620.7 715.7 L632.0 717.9 L639.5 716.2 L649.4 716.4 L659.4 715.7 L669.4 715.7 L678.1 716.2 L684.4 715.2 L693.1 716.4 L703.1 717.2 L709.3 714.7 L715.6 714.7 L721.8 711.4 L729.3 711.4 L740.5 714.2 L740.0 714.4 L750.0 713.4 L760.0 714.9 L766.2 709.9 L777.4 709.9 L784.9 709.4 L797.4 712.4 L804.9 712.9 L812.4 715.9 L818.6 716.9 L824.8 715.9 L832.3 713.9 L842.3 712.7 L849.8 709.9 L854.8 709.4 L862.3 710.7 L869.7 712.4 L874.7 712.7 L879.7 711.4 L887.2 712.4 L892.7 711.9 L899.2 705.0 L905.9 703.7 L912.2 703.5 L924.6 707.2 L932.1 707.5 L939.6 708.5 L949.6 710.9 L955.8 710.2 L962.1 711.7 L969.5 713.2 L975.8 716.2 L983.3 715.7 L993.2 716.4 L1000.7 713.4 L1007.0 713.2 L1013.2 715.2 L1019.4 716.4 L1025.7 714.4 L1031.9 712.2 L1039.4 715.4 L1045.6 714.4 L1051.4 712.2 L1059.4 712.9 L1066.8 714.4 L1076.8 716.4 L1083.1 716.4 L1090.5 715.4 L1096.8 715.7 L1100.0 716.7 L1107.5 716.4 L1115.0 714.4 L1121.2 712.9 L1127.4 709.4 L1137.4 709.2 L1144.9 710.2 L1152.4 711.9 L1159.9 713.4 L1164.9 715.2 L1172.4 710.4 L1182.3 710.2 L1190.3 709.2 L1197.3 712.9 L1209.8 713.4 L1219.8 714.2 L1229.7 714.7 L1241.0 716.7 L1248.5 716.4 L1254.7 715.2 L1264.7 715.4 L1272.2 716.7 L1279.6 717.2 L1285.9 715.4 L1293.4 716.2 L1299.6 715.7 L1307.1 716.9 L1317.1 718.2 L1324.6 719.9 L1329.5 720.4 L1335.8 717.2 L1343.3 717.2 L1352.0 718.7 L1362.0 719.9 L1369.5 721.4 L1374.5 721.9 L1380.7 723.9 L1386.9 722.4 L1392.7 723.9" fill="none" stroke="#b22833" stroke-width="1.2" stroke-linejoin="round"/>
<path clip-path="url(#cc)" d="M3.0 739.4 L12.5 746.4 L25.0 753.1 L37.4 750.9 L47.4 750.9 L57.4 749.4 L67.4 747.6 L82.3 741.9 L99.8 743.9 L114.8 745.1 L127.2 747.6 L137.2 750.9 L146.0 751.4 L152.2 747.6 L159.7 740.1 L165.9 737.6 L177.1 740.1 L183.9 735.9 L190.9 748.4 L202.1 753.9 L215.1 773.8 L222.1 768.8 L228.3 765.8 L234.5 767.6 L240.8 766.3 L247.0 758.4 L253.2 756.9 L260.7 753.1 L272.0 756.9 L279.4 753.4 L290.7 755.9 L299.4 754.4 L309.9 752.1 L316.9 760.1 L328.8 769.3 L335.6 765.1 L341.8 763.3 L354.3 742.6 L360.5 740.6 L368.0 743.1 L373.7 744.4 L380.0 748.9 L386.2 742.1 L393.0 738.1 L399.4 746.4 L403.7 746.4 L411.9 741.9 L417.9 743.4 L424.1 758.1 L431.1 763.8 L436.9 764.8 L443.1 768.8 L449.8 758.9 L456.1 751.9 L462.3 755.9 L469.1 757.9 L474.8 754.6 L481.0 751.4 L487.3 753.4 L493.5 754.6 L499.7 749.6 L506.0 745.9 L512.7 742.9 L519.0 736.9 L525.9 737.4 L532.2 745.9 L544.7 745.9 L550.9 749.4 L557.1 753.1 L564.1 759.3 L569.6 752.9 L575.8 749.6 L582.6 756.4 L588.8 765.8 L595.0 758.4 L601.5 778.3 L607.0 778.3 L613.8 775.8 L620.7 765.8 L627.0 765.3 L633.2 758.9 L640.0 741.9 L645.7 738.4 L651.9 742.9 L658.7 757.1 L664.9 761.3 L671.1 757.4 L678.1 756.6 L683.9 761.8 L690.1 770.1 L696.3 765.6 L703.1 761.8 L708.8 772.8 L715.6 775.6 L721.8 783.6 L728.0 778.8 L734.3 776.3 L740.0 773.8 L747.0 765.8 L753.7 760.8 L760.0 759.3 L766.2 775.1 L772.4 774.3 L778.7 776.8 L784.9 773.8 L791.6 768.3 L797.9 769.6 L804.4 767.6 L810.6 766.3 L817.3 760.3 L823.1 762.8 L829.8 785.0 L836.1 798.8 L842.3 790.0 L848.5 789.5 L854.8 780.8 L861.0 778.8 L867.2 775.8 L874.0 773.1 L880.2 766.8 L887.2 763.3 L892.7 764.3 L899.2 775.1 L905.9 783.1 L912.2 777.6 L918.4 775.3 L924.6 774.1 L930.9 776.6 L937.1 776.6 L943.3 775.3 L949.6 772.6 L955.8 775.8 L962.1 774.8 L969.0 773.3 L975.3 773.1 L981.5 769.3 L987.8 766.3 L994.5 764.1 L1000.7 761.3 L1007.0 763.3 L1013.2 760.8 L1019.9 760.6 L1026.2 771.3 L1032.4 785.5 L1038.9 785.5 L1044.9 774.3 L1051.1 758.4 L1057.4 753.9 L1064.4 748.4 L1070.6 747.9 L1076.8 749.4 L1083.1 754.6 L1089.3 757.1 L1095.5 757.9 L1100.0 759.6 L1108.2 757.6 L1115.0 772.6 L1120.7 776.3 L1127.4 756.4 L1133.7 740.9 L1139.9 745.9 L1146.2 748.4 L1152.4 745.6 L1158.6 743.1 L1164.9 743.6 L1171.9 731.4 L1178.1 735.1 L1184.1 743.9 L1190.3 738.4 L1197.3 742.1 L1203.5 746.6 L1209.8 746.1 L1216.0 744.1 L1222.3 745.4 L1228.5 746.6 L1234.7 748.4 L1241.0 751.4 L1247.2 753.9 L1253.9 761.3 L1259.7 760.1 L1265.9 763.8 L1272.2 767.6 L1279.1 772.6 L1285.9 778.1 L1292.1 775.1 L1298.4 765.1 L1304.6 757.6 L1312.1 749.4 L1318.3 745.9 L1323.3 745.1 L1329.5 749.4 L1337.0 756.4 L1343.3 761.3 L1349.5 761.8 L1354.5 758.9 L1362.0 761.8 L1368.2 764.3 L1374.5 758.9 L1380.7 756.4 L1386.9 749.4 L1392.7 747.6" fill="none" stroke="#2962ff" stroke-width="1.2" stroke-linejoin="round"/>
<g shape-rendering="crispEdges"><rect x="1460" y="3" width="1" height="829" fill="#505050"/><rect x="3" y="804" width="1517" height="1" fill="#505050"/></g>
<text x="1468.5" y="72.7" font-size="12.5" fill="#555555" font-weight="normal" text-anchor="start" textLength="36" lengthAdjust="spacingAndGlyphs">5.200%</text>
<text x="1468.5" y="176.4" font-size="12.5" fill="#555555" font-weight="normal" text-anchor="start" textLength="36" lengthAdjust="spacingAndGlyphs">5.000%</text>
<text x="1468.5" y="228.3" font-size="12.5" fill="#555555" font-weight="normal" text-anchor="start" textLength="36" lengthAdjust="spacingAndGlyphs">4.900%</text>
<text x="1468.5" y="280.1" font-size="12.5" fill="#555555" font-weight="normal" text-anchor="start" textLength="36" lengthAdjust="spacingAndGlyphs">4.800%</text>
<text x="1468.5" y="332.0" font-size="12.5" fill="#555555" font-weight="normal" text-anchor="start" textLength="36" lengthAdjust="spacingAndGlyphs">4.700%</text>
<text x="1468.5" y="383.9" font-size="12.5" fill="#555555" font-weight="normal" text-anchor="start" textLength="36" lengthAdjust="spacingAndGlyphs">4.600%</text>
<text x="1468.5" y="435.7" font-size="12.5" fill="#555555" font-weight="normal" text-anchor="start" textLength="36" lengthAdjust="spacingAndGlyphs">4.500%</text>
<text x="1468.5" y="487.6" font-size="12.5" fill="#555555" font-weight="normal" text-anchor="start" textLength="36" lengthAdjust="spacingAndGlyphs">4.400%</text>
<text x="1468.5" y="539.4" font-size="12.5" fill="#555555" font-weight="normal" text-anchor="start" textLength="36" lengthAdjust="spacingAndGlyphs">4.300%</text>
<text x="1468.5" y="591.3" font-size="12.5" fill="#555555" font-weight="normal" text-anchor="start" textLength="36" lengthAdjust="spacingAndGlyphs">4.200%</text>
<text x="1468.5" y="643.2" font-size="12.5" fill="#555555" font-weight="normal" text-anchor="start" textLength="36" lengthAdjust="spacingAndGlyphs">4.100%</text>
<text x="1468.5" y="124.6" font-size="12.5" fill="#555555" font-weight="normal" text-anchor="start" textLength="36" lengthAdjust="spacingAndGlyphs">5.100%</text>
<text x="1468.5" y="717" font-size="12.5" fill="#555555" font-weight="normal" text-anchor="start" textLength="36" lengthAdjust="spacingAndGlyphs">0.100%</text>
<text x="1468.5" y="764.3" font-size="12.5" fill="#555555" font-weight="normal" text-anchor="start" textLength="22.5" lengthAdjust="spacingAndGlyphs">0.00</text>
<text x="1468.5" y="795.8" font-size="12.5" fill="#555555" font-weight="normal" text-anchor="start" textLength="42" lengthAdjust="spacingAndGlyphs">−250.00</text>
<path d="M1460 102 H1507.5 a2 2 0 0 1 2 2 V117 a2 2 0 0 1 -2 2 H1460 Z" fill="#000"/>
<text x="1468.5" y="114.7" font-size="12.5" fill="#fff" font-weight="bold" text-anchor="start" textLength="36.5" lengthAdjust="spacingAndGlyphs">5.118%</text>
<path d="M1460 120 H1507.5 a2 2 0 0 1 2 2 V135 a2 2 0 0 1 -2 2 H1460 Z" fill="#000"/>
<text x="1468.5" y="132.7" font-size="12.5" fill="#fff" font-weight="bold" text-anchor="start" textLength="36.5" lengthAdjust="spacingAndGlyphs">5.085%</text>
<path d="M1460 225 H1507.5 a2 2 0 0 1 2 2 V240 a2 2 0 0 1 -2 2 H1460 Z" fill="#2962ff"/>
<text x="1468.5" y="237.7" font-size="12.5" fill="#fff" font-weight="bold" text-anchor="start" textLength="36.5" lengthAdjust="spacingAndGlyphs">4.882%</text>
<path d="M1460 496 H1507.5 a2 2 0 0 1 2 2 V511 a2 2 0 0 1 -2 2 H1460 Z" fill="#2962ff"/>
<text x="1468.5" y="508.7" font-size="12.5" fill="#fff" font-weight="bold" text-anchor="start" textLength="36.5" lengthAdjust="spacingAndGlyphs">4.359%</text>
<path d="M1460 544 H1507.5 a2 2 0 0 1 2 2 V559 a2 2 0 0 1 -2 2 H1460 Z" fill="#2962ff"/>
<text x="1468.5" y="556.7" font-size="12.5" fill="#fff" font-weight="bold" text-anchor="start" textLength="36.5" lengthAdjust="spacingAndGlyphs">4.268%</text>
<path d="M1460 641 H1507.5 a2 2 0 0 1 2 2 V656 a2 2 0 0 1 -2 2 H1460 Z" fill="#2962ff"/>
<text x="1468.5" y="653.7" font-size="12.5" fill="#fff" font-weight="bold" text-anchor="start" textLength="36.5" lengthAdjust="spacingAndGlyphs">4.081%</text>
<rect x="1464.5" y="7.5" width="51" height="25" rx="4" fill="#fff" stroke="#e0e3eb" stroke-width="1"/>
<text x="1468" y="24" font-size="11" fill="#333" font-weight="normal" text-anchor="start" textLength="7.5" lengthAdjust="spacingAndGlyphs">%</text>
<text x="25.5" y="822" font-size="12.5" fill="#555555" font-weight="normal" text-anchor="middle">Jun</text>
<text x="165.5" y="822" font-size="12.5" fill="#555555" font-weight="normal" text-anchor="middle">Jul</text>
<text x="298.5" y="822" font-size="12.5" fill="#555555" font-weight="normal" text-anchor="middle">Aug</text>
<text x="443.5" y="822" font-size="12.5" fill="#555555" font-weight="normal" text-anchor="middle">Sep</text>
<text x="570.5" y="822" font-size="12.5" fill="#555555" font-weight="normal" text-anchor="middle">Oct</text>
<text x="709.5" y="822" font-size="12.5" fill="#555555" font-weight="normal" text-anchor="middle">Nov</text>
<text x="849.5" y="822" font-size="12.5" fill="#555555" font-weight="normal" text-anchor="middle">Dec</text>
<text x="975.5" y="822" font-size="12.5" fill="#444" font-weight="bold" text-anchor="middle">2024</text>
<text x="1121.5" y="822" font-size="12.5" fill="#555555" font-weight="normal" text-anchor="middle">Feb</text>
<text x="1254.5" y="822" font-size="12.5" fill="#555555" font-weight="normal" text-anchor="middle">Mar</text>
<text x="1387.5" y="822" font-size="12.5" fill="#555555" font-weight="normal" text-anchor="middle">Apr</text>
<polygon points="1483.2,818.5 1486.7,812.5 1493.7,812.5 1497.2,818.5 1493.7,824.5 1486.7,824.5" fill="#fff" stroke="#131722" stroke-width="1.2"/>
<circle cx="1490.2" cy="818.5" r="1.8" fill="#fff" stroke="#131722" stroke-width="1.2"/>
<defs><clipPath id="fl"><circle cx="21" cy="19" r="9"/></clipPath></defs>
<g clip-path="url(#fl)"><rect x="12" y="10" width="18" height="18" fill="#fff"/>
<rect x="12" y="10" width="18" height="3.9" fill="#ef5350"/><rect x="12" y="17.3" width="18" height="3.7" fill="#ef5350"/><rect x="12" y="24" width="18" height="4" fill="#ef5350"/>
<rect x="12" y="10" width="11.2" height="11" fill="#1e88e5"/>
<circle cx="17.6" cy="12.5" r="0.75" fill="#fff"/>
<circle cx="20.6" cy="12.5" r="0.75" fill="#fff"/>
<circle cx="14.6" cy="15.5" r="0.75" fill="#fff"/>
<circle cx="17.6" cy="15.5" r="0.75" fill="#fff"/>
<circle cx="20.6" cy="15.5" r="0.75" fill="#fff"/>
<circle cx="14.6" cy="18.5" r="0.75" fill="#fff"/>
<circle cx="17.6" cy="18.5" r="0.75" fill="#fff"/>
<circle cx="20.6" cy="18.5" r="0.75" fill="#fff"/>
</g>
<text x="34.5" y="24.8" font-size="15.5" fill="#4a4a4a" font-weight="normal" text-anchor="start" textLength="302.5" lengthAdjust="spacingAndGlyphs">US Government Bonds 2 YR Yield · 1D · TVC</text>
<circle cx="362" cy="19.5" r="8.7" fill="#d4ede7"/><circle cx="362" cy="19.5" r="3.6" fill="#089981"/>
<text x="387" y="23.6" font-size="12.5" fill="#555555" font-weight="normal" text-anchor="start" textLength="8.5" lengthAdjust="spacingAndGlyphs">O</text>
<text x="395.8" y="23.6" font-size="12.5" fill="#7a2e28" font-weight="normal" text-anchor="start" textLength="40.5" lengthAdjust="spacingAndGlyphs">4.707%</text>
<text x="443" y="23.6" font-size="12.5" fill="#555555" font-weight="normal" text-anchor="start" textLength="8" lengthAdjust="spacingAndGlyphs">H</text>
<text x="451.3" y="23.6" font-size="12.5" fill="#7a2e28" font-weight="normal" text-anchor="start" textLength="40.5" lengthAdjust="spacingAndGlyphs">4.711%</text>
<text x="499" y="23.6" font-size="12.5" fill="#555555" font-weight="normal" text-anchor="start" textLength="6" lengthAdjust="spacingAndGlyphs">L</text>
<text x="505.3" y="23.6" font-size="12.5" fill="#7a2e28" font-weight="normal" text-anchor="start" textLength="40.5" lengthAdjust="spacingAndGlyphs">4.687%</text>
<text x="551.6" y="23.6" font-size="12.5" fill="#555555" font-weight="normal" text-anchor="start" textLength="7.5" lengthAdjust="spacingAndGlyphs">C</text>
<text x="559.4" y="23.6" font-size="12.5" fill="#7a2e28" font-weight="normal" text-anchor="start" textLength="40.5" lengthAdjust="spacingAndGlyphs">4.699%</text>
<text x="606.5" y="23.6" font-size="12.5" fill="#7a2e28" font-weight="normal" text-anchor="start" textLength="91.5" lengthAdjust="spacingAndGlyphs">−0.008 (−0.17%)</text>
<rect x="11.5" y="35.5" width="47" height="23" rx="4" fill="#fff" stroke="#f23645" stroke-width="1"/>
<text x="19" y="51.3" font-size="12.5" fill="#f23645" font-weight="normal" text-anchor="start" textLength="31.5" lengthAdjust="spacingAndGlyphs">4.746</text>
<text x="67.4" y="51.3" font-size="12.5" fill="#333" font-weight="normal" text-anchor="start" textLength="32" lengthAdjust="spacingAndGlyphs">−0.011</text>
<rect x="108.5" y="35.5" width="47" height="23" rx="4" fill="#fff" stroke="#2962ff" stroke-width="1"/>
<text x="116.3" y="51.3" font-size="12.5" fill="#2962ff" font-weight="normal" text-anchor="start" textLength="31.5" lengthAdjust="spacingAndGlyphs">4.735</text>
<rect x="9" y="68" width="544" height="16" fill="#fff" fill-opacity="0.6"/>
<text x="12" y="79.6" font-size="12.5" fill="#555555" font-weight="normal" text-anchor="start" textLength="382.5" lengthAdjust="spacingAndGlyphs">MA Ribbon SMA close 20 SMA close 50 SMA close 100 SMA close 200</text>
<text x="403.5" y="79.6" font-size="12.5" fill="#f23645" font-weight="normal" text-anchor="start" textLength="39" lengthAdjust="spacingAndGlyphs">4.623%</text>
<text x="449.5" y="79.6" font-size="12.5" fill="#2962ff" font-weight="normal" text-anchor="start" textLength="39.5" lengthAdjust="spacingAndGlyphs">4.557%</text>
<text x="496" y="79.6" font-size="11" fill="#333" font-weight="normal" text-anchor="start" textLength="7" lengthAdjust="spacingAndGlyphs">∅</text>
<text x="509.5" y="79.6" font-size="12.5" fill="#222" font-weight="normal" text-anchor="start" textLength="39" lengthAdjust="spacingAndGlyphs">4.751%</text>
<rect x="12.5" y="89.5" width="28" height="20" rx="3.5" fill="#fff" stroke="#d6d9e3" stroke-width="1"/>
<path d="M22.3 101.6 L26.4 97.6 L30.5 101.6" fill="none" stroke="#222" stroke-width="1.4"/>
<rect x="9" y="698" width="122" height="16" fill="#fff" fill-opacity="0.6"/>
<text x="12" y="710.3" font-size="12.5" fill="#555555" font-weight="normal" text-anchor="start" textLength="66.5" lengthAdjust="spacingAndGlyphs">ATR 14 RMA</text>
<text x="87.8" y="710.3" font-size="12.5" fill="#b22833" font-weight="normal" text-anchor="start" textLength="39.5" lengthAdjust="spacingAndGlyphs">0.073%</text>
<rect x="9" y="737" width="150" height="16" fill="#fff" fill-opacity="0.6"/>
<text x="12" y="749" font-size="12.5" fill="#555555" font-weight="normal" text-anchor="start" textLength="101.5" lengthAdjust="spacingAndGlyphs">CCI 20 hlc3 SMA 5</text>
<text x="122.3" y="749" font-size="12.5" fill="#2962ff" font-weight="normal" text-anchor="start" textLength="31" lengthAdjust="spacingAndGlyphs">98.13</text>
<g transform="translate(15,771.8) scale(0.845)" fill="#131722"><path d="M14 22H7V11H0V4h14v18z"/><path d="M28 22h-8l7.5-18h8L28 22z"/><circle cx="20" cy="8" r="4"/></g>
<defs><filter id="ws" x="-5%" y="-10%" width="110%" height="120%"><feDropShadow dx="1.3" dy="1.6" stdDeviation="0.9" flood-color="#000" flood-opacity="0.7"/></filter></defs>
<g font-weight="bold" font-style="italic">
<text x="1278" y="789.5" font-size="57" fill="#fff" stroke="#fff" stroke-width="0.4" opacity="0.84" filter="url(#ws)" style="font-family:'Noto Sans CJK SC',sans-serif;font-weight:900" textLength="243" lengthAdjust="spacingAndGlyphs">海马财经</text>
<text x="1290.5" y="829.3" font-size="33" fill="#62a6ee" stroke="#62a6ee" stroke-width="2.2" stroke-linejoin="round" opacity="0.85" textLength="222" lengthAdjust="spacing">zzrt01.cn</text>
</g>
</svg></body></html>
